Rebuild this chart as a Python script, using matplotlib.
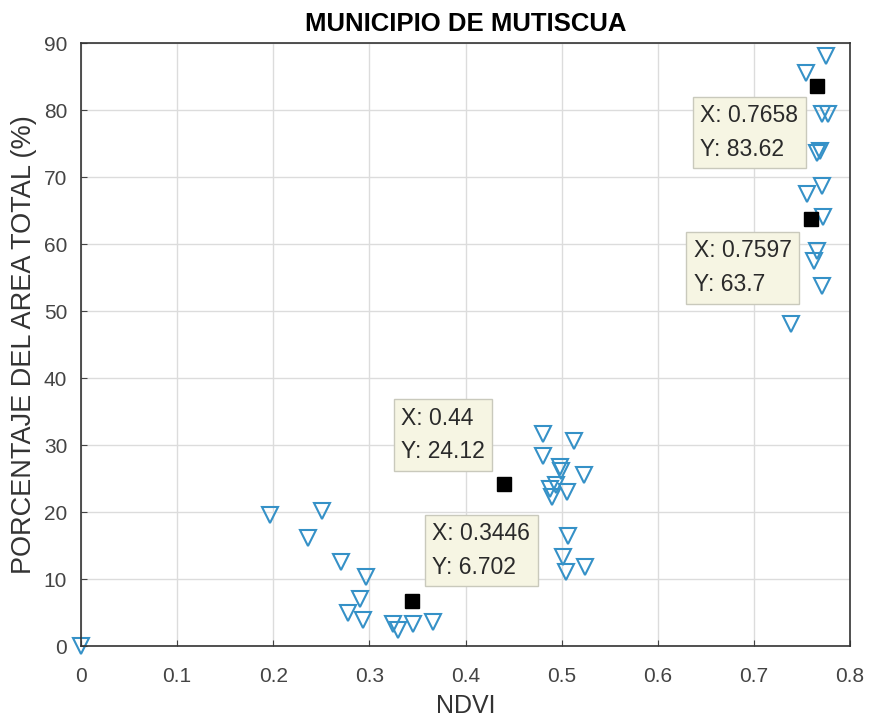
import matplotlib
matplotlib.use("Agg")
import matplotlib.pyplot as plt

# NDVI vs porcentaje del area total
ndvi = [0.0,
        0.197, 0.251, 0.236, 0.270, 0.296, 0.290, 0.278, 0.293, 0.325, 0.330, 0.345, 0.366,
        0.481, 0.513, 0.481, 0.498, 0.499, 0.523, 0.488, 0.494, 0.505, 0.490, 0.507, 0.501, 0.504, 0.524,
        0.775, 0.754, 0.771, 0.777, 0.766, 0.769, 0.755, 0.771, 0.772, 0.766, 0.762, 0.771, 0.739]
porcentaje = [0.0,
              19.5, 20.1, 16.2, 12.5, 10.3, 7.0, 4.9, 3.9, 3.3, 2.4, 3.3, 3.6,
              31.6, 30.6, 28.3, 26.7, 26.1, 25.5, 23.5, 24.1, 23.0, 22.2, 16.5, 13.3, 11.0, 11.8,
              88.1, 85.5, 79.4, 79.4, 73.6, 73.9, 67.5, 68.7, 64.1, 59.0, 57.5, 53.8, 48.1]

# puntos marcados (data tips)
tip_x = [0.7658, 0.7597, 0.44, 0.3446]
tip_y = [83.62, 63.7, 24.12, 6.702]
tip_lbl_x = ['0.7658', '0.7597', '0.44', '0.3446']
tip_lbl_y = ['83.62', '63.7', '24.12', '6.702']

plt.rcParams['font.family'] = ['Liberation Sans', 'DejaVu Sans']

fig = plt.figure(figsize=(8.74, 7.21), dpi=100)
ax = fig.add_axes([0.0927, 0.104, 0.88, 0.836])

ax.plot(ndvi, porcentaje, linestyle='none', marker='v', markersize=12,
        markerfacecolor='none', markeredgecolor='#3591c7', markeredgewidth=1.5,
        clip_on=False)
ax.plot(tip_x, tip_y, linestyle='none', marker='s', markersize=10.5,
        color='black', zorder=5)

# posicion de los cuadros de texto (offset en pixeles, alineacion)
offsets = [(-19, -18, 'right', 'top'), (-20, -20, 'right', 'top'),
           (-19, 21, 'right', 'bottom'), (20, 22, 'left', 'bottom')]
for x, y, lx, ly, (dx, dy, ha, va) in zip(tip_x, tip_y, tip_lbl_x, tip_lbl_y, offsets):
    ax.annotate(f"X: {lx}\nY: {ly}", xy=(x, y), xytext=(dx, dy),
                textcoords='offset pixels', ha=ha, va=va, multialignment='left',
                fontsize=16.5, color='#2a2a2a', linespacing=1.6, zorder=6,
                bbox=dict(boxstyle='square,pad=0.32', facecolor='#f6f5e3',
                          edgecolor='#c9c9bc', linewidth=1))

ax.set_xlim(0, 0.8)
ax.set_ylim(0, 90)
ax.set_xticks([0, 0.1, 0.2, 0.3, 0.4, 0.5, 0.6, 0.7, 0.8])
ax.set_xticklabels(['0', '0.1', '0.2', '0.3', '0.4', '0.5', '0.6', '0.7', '0.8'])
ax.set_yticks(range(0, 91, 10))
ax.grid(True, color='#dcdcdc', linewidth=1)
ax.set_axisbelow(True)
ax.tick_params(direction='in', length=4, labelsize=15, colors='#444444')
ax.tick_params(axis='x', pad=15)
ax.tick_params(axis='y', pad=10)
for sp in ax.spines.values():
    sp.set_color('#333333')
    sp.set_linewidth(1.2)

ax.set_title('MUNICIPIO DE MUTISCUA', fontsize=18.5, fontweight='bold', pad=9)
ax.set_xlabel('NDVI', fontsize=18, color='#333333', labelpad=6)
ax.set_ylabel('PORCENTAJE DEL AREA TOTAL (%)', fontsize=19.5, color='#333333', labelpad=5)

fig.savefig('out.png', dpi=100)
